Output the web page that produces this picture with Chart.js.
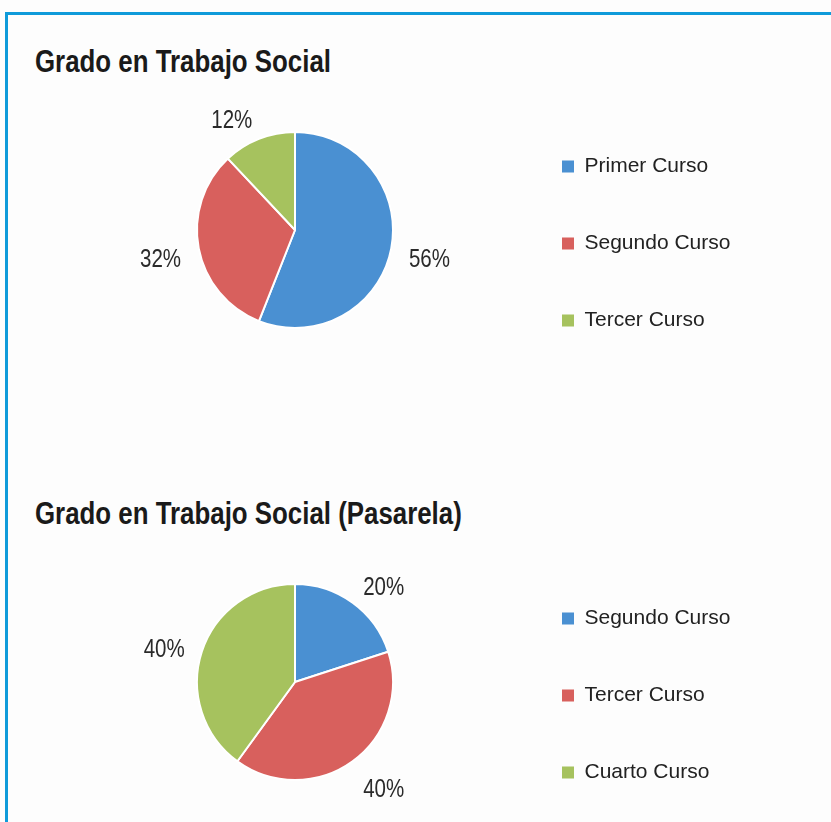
<!DOCTYPE html>
<html>
<head>
<meta charset="utf-8">
<script src="https://cdn.jsdelivr.net/npm/chart.js@4.4.0/dist/chart.umd.min.js"></script>
<style>
  body { margin: 0; background: #fdfdfd; }
  #wrap { position: relative; width: 831px; height: 822px; overflow: hidden; }
  .frame { position: absolute; left: 5px; top: 12px; right: -10px; bottom: -10px;
           border-top: 3px solid #0f9bda; border-left: 3px solid #0f9bda; }
  .titulo { position: absolute; left: 35px; margin: 0; font: bold 31px/31px 'Liberation Sans', Arial, sans-serif;
            color: #1a1a1a; white-space: nowrap; transform: scaleX(0.834); transform-origin: 0 0; }
  canvas { position: absolute; left: 0; }
</style>
</head>
<body>
<div id="wrap">
  <div class="frame"></div>
  <h2 class="titulo" style="top:46px">Grado en Trabajo Social</h2>
  <h2 class="titulo" style="top:498px">Grado en Trabajo Social (Pasarela)</h2>
  <canvas id="chart1" width="831" height="400" style="top:0px"></canvas>
  <canvas id="chart2" width="831" height="400" style="top:452px"></canvas>
</div>
<script>
const cursos1 = ['Primer Curso', 'Segundo Curso', 'Tercer Curso'];
const valores1 = [56, 32, 12];

const cursos2 = ['Segundo Curso', 'Tercer Curso', 'Cuarto Curso'];
const valores2 = [20, 40, 40];

const colores = ['#4a90d2', '#d8605d', '#a6c25e'];

const fuente = "'Liberation Sans', Arial, sans-serif";
const tamLeyenda = 21;
const sepLeyenda = 56;

// porcentajes fuera de la tarta (texto estrechado como Arial Narrow)
const etiquetas = {
  id: 'etiquetas',
  afterDatasetsDraw(chart) {
    const ctx = chart.ctx;
    const meta = chart.getDatasetMeta(0);
    const datos = chart.data.datasets[0].data;
    const total = datos.reduce((a, b) => a + b, 0);
    const estrecho = 0.82;
    ctx.save();
    ctx.font = '25px ' + fuente;
    ctx.fillStyle = '#2a2a2a';
    ctx.textAlign = 'center';
    ctx.textBaseline = 'alphabetic';
    meta.data.forEach((arc, i) => {
      const p = arc.getProps(['x', 'y', 'startAngle', 'endAngle', 'outerRadius'], true);
      const mid = (p.startAngle + p.endAngle) / 2;
      const dx = Math.cos(mid);
      const dy = Math.sin(mid);
      const texto = Math.round(datos[i] / total * 100) + '%';
      const w = ctx.measureText(texto).width * estrecho;
      const r = p.outerRadius + 18;
      const cx = p.x + dx * r + Math.sign(dx) * w / 2;
      const cy = p.y + dy * r + dy * 9 + 5;
      ctx.save();
      ctx.translate(cx, cy + 9);
      ctx.scale(estrecho, 1);
      ctx.fillText(texto, 0, 0);
      ctx.restore();
    });
    ctx.restore();
  }
};

const medir = (textos) => {
  const c = document.createElement('canvas').getContext('2d');
  c.font = tamLeyenda + 'px ' + fuente;
  return Math.max(...textos.map(t => c.measureText(t).width));
};

const crearTarta = (id, cursos, valores) => {
  const ctx = document.getElementById(id).getContext('2d');
  // ancho de la leyenda = padding + caja + medio tamaño + texto + 10
  const anchoLeyenda = sepLeyenda + 12 + tamLeyenda / 2 + medir(cursos) + 10;
  const derecha = 831 - (562 - sepLeyenda) - anchoLeyenda;
  return new Chart(ctx, {
    type: 'pie',
    data: {
      labels: cursos,
      datasets: [{
        data: valores,
        backgroundColor: colores,
        borderColor: '#ffffff',
        borderWidth: 2,
        radius: 98
      }]
    },
    options: {
      responsive: false,
      animation: false,
      layout: { padding: { left: 2 * 295 - (562 - sepLeyenda), top: 70, right: derecha, bottom: 10 } },
      plugins: {
        tooltip: { enabled: false },
        legend: {
          position: 'right',
          title: { display: true, text: '', padding: 0, font: { size: 27, lineHeight: 1 } },
          labels: {
            boxWidth: 12,
            boxHeight: 12,
            padding: sepLeyenda,
            color: '#222222',
            font: { size: tamLeyenda, family: fuente },
            generateLabels: (chart) => {
              const items = Chart.overrides.pie.plugins.legend.labels.generateLabels(chart);
              items.forEach(it => { it.lineWidth = 0; });
              return items;
            }
          }
        }
      }
    },
    plugins: [etiquetas]
  });
};

crearTarta('chart1', cursos1, valores1);
crearTarta('chart2', cursos2, valores2);
</script>
</body>
</html>
